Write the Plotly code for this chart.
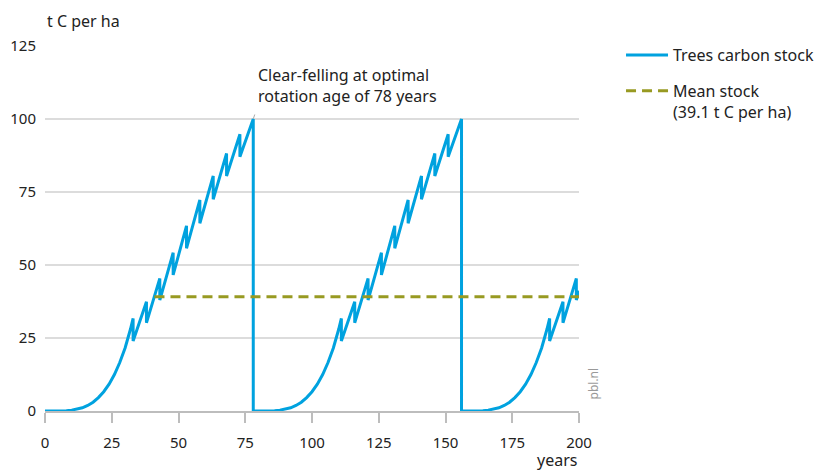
import plotly.graph_objects as go

# one rotation of the stand: age (years) vs. trees carbon stock (t C per ha)
CYCLE_AGE = [0, 2, 4, 6, 8, 10, 12, 14, 16, 18, 20, 22, 24, 26, 28, 30, 32,
             33, 33, 38, 38, 43, 43, 48, 48, 53, 53, 58, 58, 63, 63,
             68, 68, 73, 73, 78, 78]
CYCLE_STOCK = [0, 0, 0, 0.03, 0.1, 0.3, 0.6, 1.1, 1.9, 3.0, 4.6, 6.6, 9.2,
               12.5, 16.6, 21.6, 28.0,
               31.7, 24.0, 37.4, 30.2, 45.4, 38.0, 54.2, 46.6, 63.4, 55.7,
               72.3, 64.3, 80.5, 72.5, 88.2, 80.5, 94.8, 87.1, 100.0, 0]

ROTATION_AGE = 78
CYCLE_STARTS = [0, 78, 156]
END_YEAR = 200
END_STOCK = 41.2

MEAN_STOCK = 39.1
MEAN_FROM = 41

BLUE = "#00A2DF"
OLIVE = "#989A22"
FONT = "Noto Sans"

years, stock = [], []
for start in CYCLE_STARTS:
    for a, v in zip(CYCLE_AGE, CYCLE_STOCK):
        if start + a <= END_YEAR:
            years.append(start + a)
            stock.append(v)
years.append(END_YEAR)
stock.append(END_STOCK)

fig = go.Figure()
fig.add_trace(go.Scatter(
    x=years, y=stock, mode="lines", name="Trees carbon stock",
    legendgroup="a", line=dict(color=BLUE, width=3), cliponaxis=False))
fig.add_trace(go.Scatter(
    x=[MEAN_FROM, END_YEAR], y=[MEAN_STOCK, MEAN_STOCK], mode="lines",
    name="Mean stock<br>(%.1f t C per ha)" % MEAN_STOCK, legendgroup="b",
    line=dict(color=OLIVE, width=3, dash="10px,6px"), cliponaxis=False))

fig.update_layout(
    width=822, height=470,
    margin=dict(l=45, r=243, t=46, b=59),
    paper_bgcolor="white", plot_bgcolor="white",
    font=dict(family=FONT, size=15, color="#222222"),
    xaxis=dict(range=[0, 200], tickvals=list(range(0, 201, 25)),
               showgrid=False, zeroline=False, showline=True,
               linecolor="#BDBDBD", linewidth=1.5,
               ticks="outside", ticklen=10, tickcolor="#BDBDBD",
               tickwidth=1.5, ticklabelstandoff=7, automargin=False),
    yaxis=dict(range=[0, 125], tickvals=list(range(0, 126, 25)),
               showgrid=True, gridcolor="#DCDCDC", gridwidth=1.5,
               zeroline=False, showline=False, ticks="", ticklabelstandoff=8,
               automargin=False),
    legend=dict(xref="container", yref="container", x=0.7555,
                xanchor="left", y=0.919, yanchor="top",
                font=dict(size=16), traceorder="grouped", tracegroupgap=12,
                itemwidth=42, valign="top", bgcolor="rgba(0,0,0,0)",
                borderwidth=0),
    showlegend=True,
)

fig.add_annotation(text="t C per ha", xref="paper", yref="paper", x=0, y=1,
                   xanchor="left", yanchor="bottom", yshift=12,
                   showarrow=False, font=dict(size=16))
fig.add_annotation(text="years", xref="paper", yref="paper", x=1, y=0,
                   xanchor="right", yanchor="top", yshift=-36,
                   showarrow=False, font=dict(size=16))
fig.add_annotation(text="pbl.nl", xref="paper", yref="paper", x=1.047,
                   y=0.025, textangle=-90, showarrow=False,
                   font=dict(size=12, color="#999999"))
fig.add_annotation(text="Clear-felling at optimal<br>rotation age of %d years"
                   % ROTATION_AGE,
                   x=ROTATION_AGE, y=100, xanchor="left", yanchor="bottom",
                   xshift=3, yshift=10, align="left", showarrow=False,
                   font=dict(size=16))
fig.add_annotation(text=" ", x=ROTATION_AGE, y=100, ax=5, ay=-15,
                   showarrow=True, arrowhead=0, arrowwidth=1,
                   arrowcolor="#AAAAAA")

fig.write_html("out.html", config={"displayModeBar": False},
               post_script="document.body.style.margin='0';")
